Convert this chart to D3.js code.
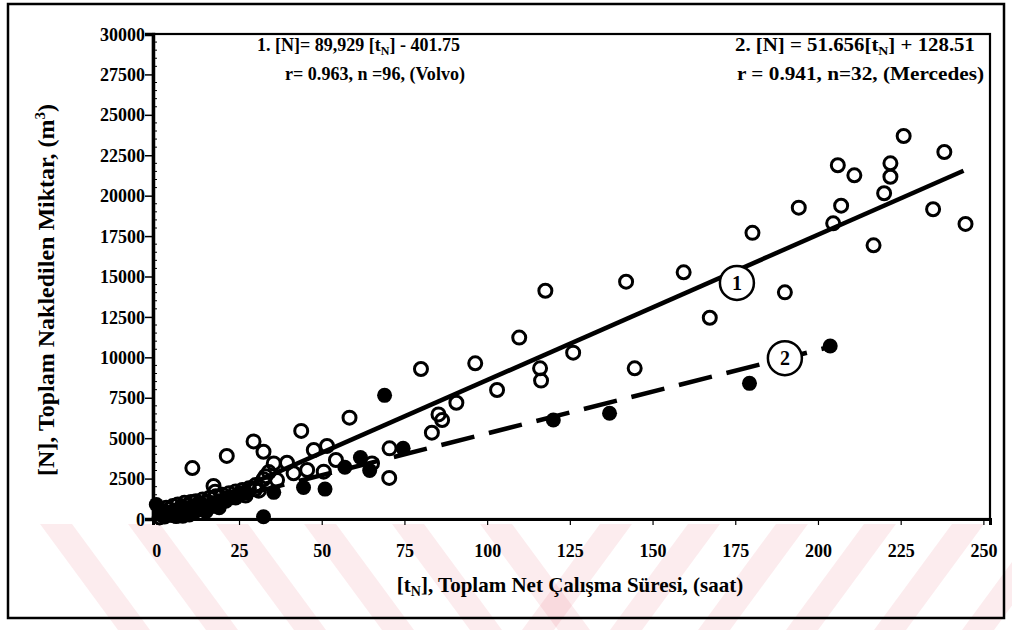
<!DOCTYPE html>
<html><head><meta charset="utf-8">
<script src="https://cdn.jsdelivr.net/npm/d3@7"></script>
<style>
html,body{margin:0;padding:0;background:#fff;}
svg text{font-family:"Liberation Serif","Times New Roman",serif;font-weight:bold;fill:#000;}
</style></head>
<body>
<svg id="chart" width="1012" height="630"></svg>
<script>
// ---- data ----
const xTicks = [0,25,50,75,100,125,150,175,200,225,250];
const yTicks = [0,2500,5000,7500,10000,12500,15000,17500,20000,22500,25000,27500,30000];
const volvoT = [10.9,21.3,29.4,32.4,43.8,35.5,39.5,47.6,51.6,54.3,45.6,41.5,32.4,29.9,17.3,17.8,50.6,36.5,58.4,65.2,70.5,70.4,80,83.3,85.3,86.4,90.7,96.4,103,109.7,116,116.3,117.6,126,142,144.6,159.4,167.3,180.2,190,194.2,204.6,206,207,211,216.8,220,221.9,221.9,225.9,234.8,238.2,244.6,
  1,1.5,2,2.5,3,3.5,4,4.5,5,5.5,6,6.5,7,7.5,8,8.5,9,9.5,10,10.5,11,12,12.5,13,14,15,16,17,18,19,20,21,22,23,24,25,26,27,28,30,31,33,34];
const volvoN = [3150,3900,4800,4160,5450,3440,3480,4270,4520,3650,3030,2830,2460,1840,2040,1690,2930,2410,6270,3440,4370,2540,9280,5340,6470,6120,7190,9630,7980,11220,9320,8560,14120,10290,14680,9320,15260,12450,17700,14020,19260,18290,21880,19380,21260,16930,20150,22000,21170,23690,19160,22700,18250,
  100,300,500,150,700,350,600,250,800,450,300,900,550,750,200,1000,650,850,450,1050,700,1100,900,600,1200,1000,1300,800,1400,1100,1500,1250,1600,1350,1700,1500,1800,1450,1900,2100,1750,2650,2900];
const mercT = [0,32.4,35.5,44.5,51,57,61.7,64.5,69,74.6,120,137,179.3,203.7,
  2,3,4,5,6,7,8,9,10,11,12,14,15,17,19,21,24,27];
const mercN = [900,140,1650,1950,1850,3200,3800,3000,7650,4370,6120,6540,8390,10700,
  200,400,300,500,150,600,400,700,250,800,500,900,450,1000,700,1100,1300,1600];
const fit1 = {a:89.929, b:-401.75, t0:4.5, t1:244, label:"1", lt:175.5, lN:14600};
const fit2 = {a:51.656, b:128.51, t0:0, t1:203, label:"2", lt:190, lN:9950};

// ---- layout ----
const svg = d3.select("#chart");
const L=153, R=990, T=34, B=519;
const x = d3.scaleLinear().domain([-1,252]).range([L,R]);
const y = d3.scaleLinear().domain([0,30000]).range([B,T]);

// watermark stripes
const wm = svg.append("g").attr("fill","rgba(225,40,60,0.085)");
for(let i=0;i<6;i++){
  const x0 = 40 + i*88;
  wm.append("path").attr("d",`M${x0},524 L${x0+32},524 L${x0+32+78},630 L${x0+78},630 Z`);
}
for(let i=0;i<6;i++){
  const x0 = 600 + i*88;
  wm.append("path").attr("d",`M${x0},524 L${x0+32},524 L${x0+32-78},630 L${x0-78},630 Z`);
}

// outer border
svg.append("rect").attr("x",8).attr("y",4).attr("width",996).attr("height",614)
  .attr("fill","none").attr("stroke","#000").attr("stroke-width",2.5);

// plot frame
svg.append("rect").attr("x",L).attr("y",T).attr("width",R-L).attr("height",B-T)
  .attr("fill","none").attr("stroke","#000").attr("stroke-width",2.2);

// axes
const yAxis = d3.axisLeft(y).tickValues(yTicks).tickSize(8).tickFormat(d3.format("d"));
const gy = svg.append("g").attr("transform",`translate(${L},0)`).call(yAxis);
gy.select(".domain").attr("stroke-width",3.5);
gy.selectAll(".tick line").attr("stroke-width",1.5);
gy.selectAll(".tick text").attr("font-size",18).attr("x",-8).attr("dy","0.34em");
const yMinor = d3.range(0,30001,500).filter(v=>v%2500!==0);
svg.append("g").selectAll("line").data(yMinor).join("line")
  .attr("x1",L).attr("x2",L+4).attr("y1",d=>y(d)).attr("y2",d=>y(d)).attr("stroke","#000").attr("stroke-width",1);

const xAxis = d3.axisBottom(x).tickValues(xTicks).tickSize(6).tickFormat(d3.format("d"));
const gx = svg.append("g").attr("transform",`translate(0,${B})`).call(xAxis);
gx.select(".domain").attr("stroke-width",3);
gx.selectAll(".tick line").attr("stroke-width",1.2);
gx.selectAll(".tick text").attr("font-size",18).attr("y",25);

// regression lines
function fitLine(f){ return [[f.t0, f.a*f.t0+f.b],[f.t1, f.a*f.t1+f.b]]; }
const line = d3.line().x(d=>x(d[0])).y(d=>y(d[1]));
svg.append("path").attr("d",line(fitLine(fit1))).attr("stroke","#000").attr("stroke-width",4.5).attr("fill","none");
svg.append("path").attr("d",line(fitLine(fit2))).attr("stroke","#000").attr("stroke-width",4.5).attr("fill","none")
  .attr("stroke-dasharray","34,15");

// Mercedes points (filled)
svg.append("g").selectAll("circle").data(mercT.map((t,i)=>[t,mercN[i]])).join("circle")
  .attr("cx",d=>x(d[0])).attr("cy",d=>y(d[1])).attr("r",7.5).attr("fill","#000");

// Volvo points (open)
svg.append("g").selectAll("circle").data(volvoT.map((t,i)=>[t,volvoN[i]])).join("circle")
  .attr("cx",d=>x(d[0])).attr("cy",d=>y(d[1])).attr("r",6.5)
  .attr("fill","none").attr("stroke","#000").attr("stroke-width",3);

// line labels
[fit1,fit2].forEach(f=>{
  const g = svg.append("g").attr("transform",`translate(${x(f.lt)},${y(f.lN)})`);
  g.append("circle").attr("r",17).attr("fill","#fff").attr("stroke","#000").attr("stroke-width",2.5);
  g.append("text").attr("text-anchor","middle").attr("dy","0.36em").attr("font-size",20).text(f.label);
});

// annotations
function eq(xp, yp, pre, post, len){
  const t = svg.append("text").attr("x",xp).attr("y",yp).attr("font-size",18)
    .attr("textLength",len).attr("lengthAdjust","spacingAndGlyphs");
  t.append("tspan").text(pre);
  t.append("tspan").attr("font-size",12).attr("dy",4).text("N");
  t.append("tspan").attr("dy",-4).text(post);
}
eq(257,51,"1.  [N]=  89,929 [t","]  - 401.75",203);
svg.append("text").attr("x",285).attr("y",80).attr("font-size",18)
  .attr("textLength",180).attr("lengthAdjust","spacingAndGlyphs").text("r= 0.963, n =96, (Volvo)");
eq(735,51,"2.  [N] = 51.656[t","] + 128.51",240);
svg.append("text").attr("x",737).attr("y",80).attr("font-size",18)
  .attr("textLength",247).attr("lengthAdjust","spacingAndGlyphs").text("r = 0.941, n=32, (Mercedes)");

// axis titles
const xt = svg.append("text").attr("x",570).attr("y",592).attr("text-anchor","middle").attr("font-size",21);
xt.append("tspan").text("[t");
xt.append("tspan").attr("font-size",14).attr("dy",4).text("N");
xt.append("tspan").attr("dy",-4).text("],  Toplam Net Çalışma Süresi,  (saat)");

const yt = svg.append("text").attr("transform","translate(54,290) rotate(-90)").attr("text-anchor","middle").attr("font-size",24);
yt.append("tspan").text("[N], Toplam Nakledilen Miktar,  (m");
yt.append("tspan").attr("font-size",15).attr("dy",-9).text("3");
yt.append("tspan").attr("dy",9).text(")");
</script>
</body></html>
